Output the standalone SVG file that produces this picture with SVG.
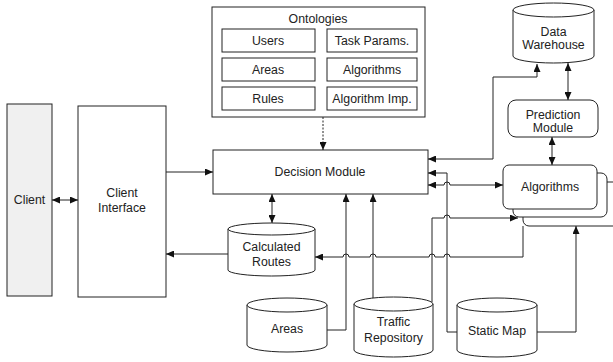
<svg xmlns="http://www.w3.org/2000/svg" width="613" height="362" viewBox="0 0 613 362">
<defs>
<marker id="arr" markerUnits="userSpaceOnUse" markerWidth="8" markerHeight="7" refX="8" refY="3.5" orient="auto-start-reverse">
<path d="M0,0 L8,3.5 L0,7 z" fill="#111"/>
</marker>
<style>
.b{fill:#fff;stroke:#222;stroke-width:1}
.t{font-family:"Liberation Sans",Arial,sans-serif;font-size:12.3px;fill:#222;text-anchor:middle;dominant-baseline:central}
.c{fill:none;stroke:#222;stroke-width:1}
.a{marker-end:url(#arr)}
.d{marker-start:url(#arr);marker-end:url(#arr)}
</style>
</defs>
<rect width="613" height="362" fill="#fff"/>

<g id="ontologies">
<rect class="b" x="212" y="7" width="213" height="110"/>
<text class="t" x="318" y="19">Ontologies</text>
<rect class="b" x="222" y="29" width="93" height="23"/><text class="t" x="268" y="41">Users</text>
<rect class="b" x="327" y="29" width="90" height="23"/><text class="t" x="372" y="41">Task Params.</text>
<rect class="b" x="222" y="58" width="93" height="23"/><text class="t" x="268" y="70">Areas</text>
<rect class="b" x="327" y="58" width="90" height="23"/><text class="t" x="372" y="70">Algorithms</text>
<rect class="b" x="222" y="87" width="93" height="23"/><text class="t" x="268" y="99">Rules</text>
<rect class="b" x="327" y="87" width="90" height="23"/><text class="t" x="372" y="99">Algorithm Imp.</text>
</g>

<g id="client">
<rect x="7" y="104" width="45" height="192" fill="#f0f0f0" stroke="#222"/>
<text class="t" x="29.5" y="200">Client</text>
</g>

<g id="client-interface">
<rect class="b" x="78" y="106" width="88" height="191"/>
<text class="t" x="122" y="193">Client</text>
<text class="t" x="122" y="208">Interface</text>
</g>

<g id="decision-module">
<rect class="b" x="213" y="150" width="215" height="44"/>
<text class="t" x="320" y="172">Decision Module</text>
</g>

<g id="data-warehouse">
<path class="b" d="M513,10 V56 A40.5,7 0 0 0 594,56 V10"/>
<ellipse class="b" cx="553.5" cy="10" rx="40.5" ry="7"/>
<text class="t" x="553.5" y="32">Data</text>
<text class="t" x="553.5" y="45">Warehouse</text>
</g>

<g id="prediction-module">
<rect class="b" x="508" y="100" width="90" height="37" rx="8"/>
<text class="t" x="553" y="115">Prediction</text>
<text class="t" x="553" y="128">Module</text>
</g>

<g id="algorithms">
<rect class="b" x="523" y="182" width="100" height="44" rx="6"/>
<rect class="b" x="513" y="173" width="94" height="44" rx="6"/>
<rect class="b" x="503" y="165" width="94" height="44" rx="6"/>
<text class="t" x="550" y="187">Algorithms</text>
</g>

<g id="calculated-routes">
<path class="b" d="M228,229 V270 A43.5,6 0 0 0 315,270 V229"/>
<ellipse class="b" cx="271.5" cy="229" rx="43.5" ry="6"/>
<text class="t" x="271.5" y="247">Calculated</text>
<text class="t" x="271.5" y="262">Routes</text>
</g>

<g id="areas">
<path class="b" d="M247,305 V345 A40,7 0 0 0 327,345 V305"/>
<ellipse class="b" cx="287" cy="305" rx="40" ry="7"/>
<text class="t" x="287" y="329">Areas</text>
</g>

<g id="traffic-repository">
<path class="b" d="M354,304 V350 A39.5,7 0 0 0 433,350 V304"/>
<ellipse class="b" cx="393.5" cy="304" rx="39.5" ry="7"/>
<text class="t" x="393.5" y="322">Traffic</text>
<text class="t" x="393.5" y="338">Repository</text>
</g>

<g id="static-map">
<path class="b" d="M457,305 V350 A40,7 0 0 0 537,350 V305"/>
<ellipse class="b" cx="497" cy="305" rx="40" ry="7"/>
<text class="t" x="497" y="331">Static Map</text>
</g>

<g id="connectors">
<path class="c d" d="M52,200 H78"/>
<path class="c a" d="M166,172 H213"/>
<path class="c a" d="M228,254 H166"/>
<path class="c a" d="M323,117 V150" stroke-dasharray="2,1.5"/>
<path class="c d" d="M272,194 V223"/>
<path class="c a" d="M327,330 H346 V194"/>
<path class="c a" d="M373,298 V194"/>
<path class="c d" d="M537,64 V77 H493 V159 H428"/>
<path class="c d" d="M568,63 V100"/>
<path class="c d" d="M552,137 V165"/>
<path class="c d" d="M428,185 H444 a3,3 0 0 1 6,0 H503"/>
<path class="c a" d="M457,332 H447 V173 H428"/>
<path class="c a" d="M432,302 V218 H444 a3,3 0 0 1 6,0 H518"/>
<path class="c" d="M315,257 H343 a3,3 0 0 1 6,0 H370 a3,3 0 0 1 6,0 H429 a3,3 0 0 1 6,0 H444 a3,3 0 0 1 6,0 H523 V226" marker-start="url(#arr)"/>
<path class="c a" d="M537,332 H576 V226"/>
</g>
</svg>
